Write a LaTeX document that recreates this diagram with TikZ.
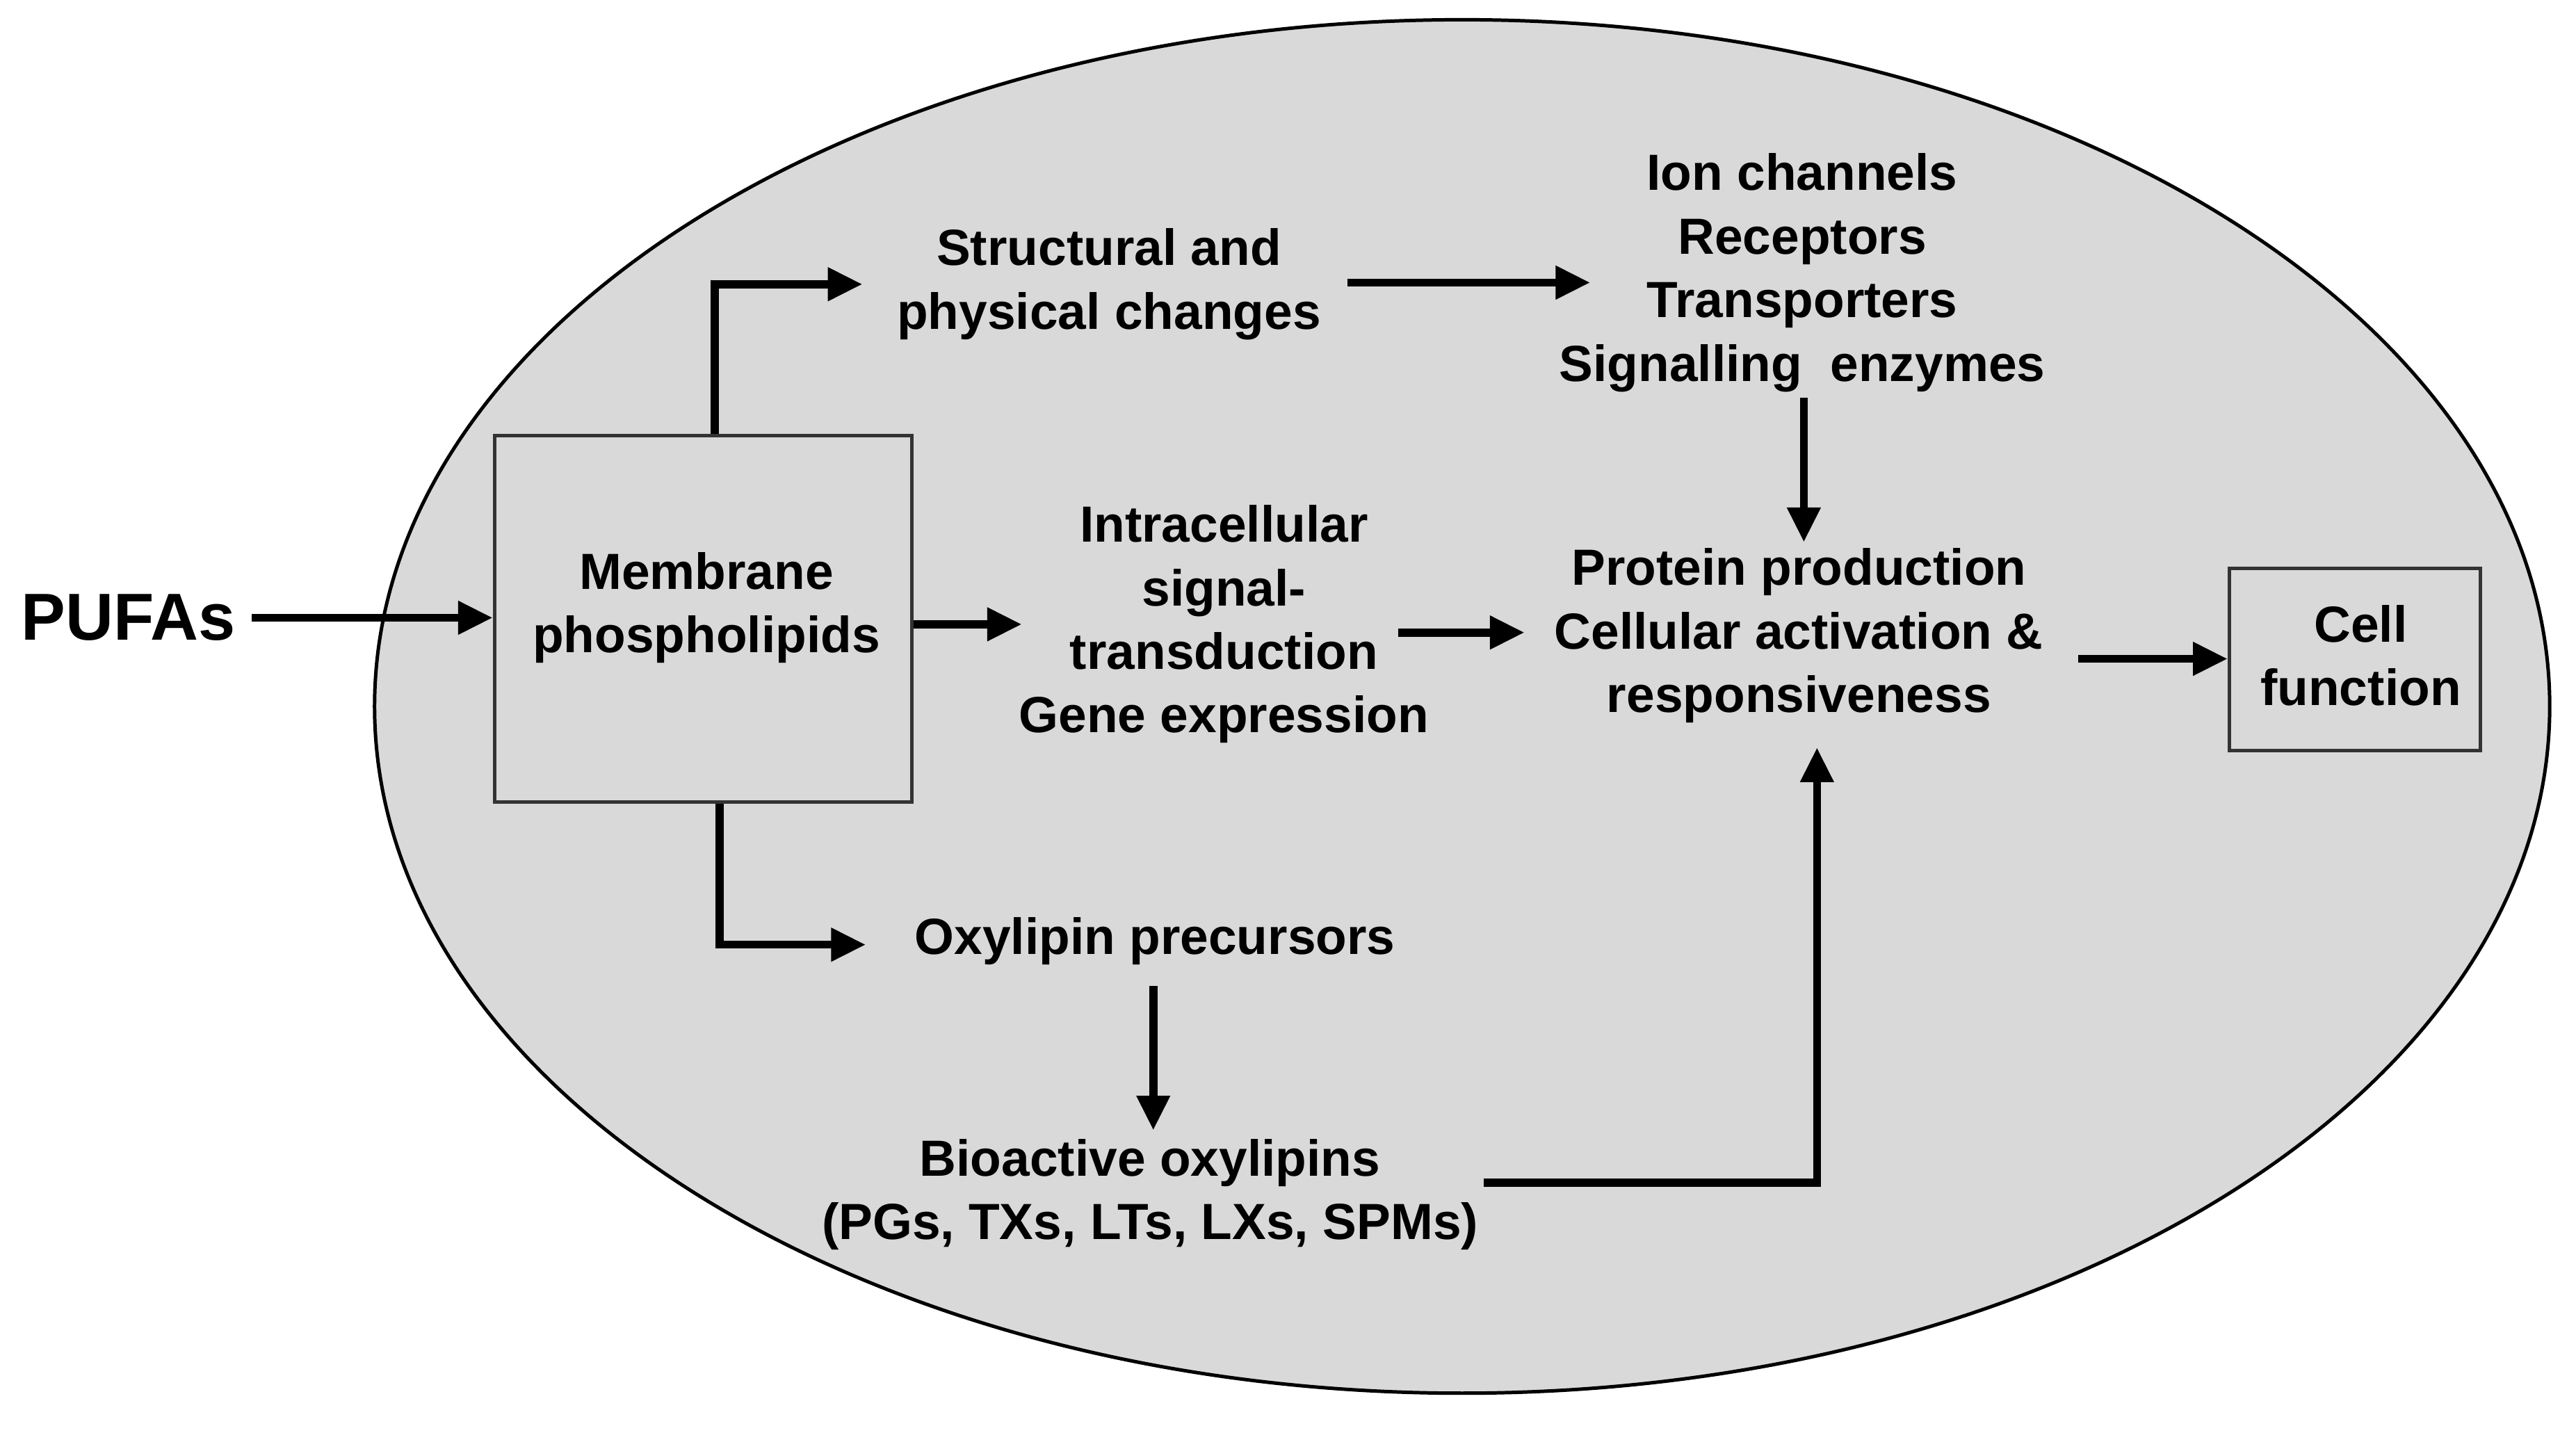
\documentclass[tikz,border=0pt]{standalone}
\usepackage{fontspec}
\setmainfont{Liberation Sans}
\usetikzlibrary{arrows.meta}
\begin{document}
\begin{tikzpicture}[x=0.01cm,y=-0.01cm,
  txt/.style={font=\bfseries\fontsize{8.8}{11}\selectfont,align=center,inner sep=0pt},
  arr/.style={line width=1.4pt,-{Triangle[length=6pt,width=5.5pt]}},
  box/.style={draw=black!80,line width=0.6pt,fill=black!15,inner sep=0pt}]
\useasboundingbox (0,0) rectangle (1568,872);
\definecolor{cellgray}{RGB}{217,217,217}
\draw[fill=cellgray,draw=black,line width=0.6pt] (890,430) ellipse [x radius=662,y radius=418];
% boxes
\node[box,minimum width=254*0.01cm,minimum height=223*0.01cm] (mem) at (428,376.5) {};
\node[txt] at (430,370) {Membrane\\phospholipids};
\node[box,minimum width=153*0.01cm,minimum height=111*0.01cm] (cellbox) at (1433.5,401.5) {};
\node[txt] (cell) at (1437,399) {Cell\\function};
% texts
\node[txt,font=\bfseries\fontsize{11.5}{13}\selectfont] (pufa) at (78,376) {PUFAs};
\node[txt] (struct) at (675,173) {Structural and\\physical changes};
\node[txt] (ion) at (1097,166) {Ion channels\\Receptors\\Transporters\\Signalling\ \ enzymes};
\node[txt] (intra) at (745,380) {Intracellular\\signal-\\transduction\\Gene expression};
\node[txt] (prot) at (1095,387) {Protein production\\Cellular activation \&\\responsiveness};
\node[txt] (oxpre) at (703,573) {Oxylipin precursors};
\node[txt] (bio) at (700,727) {Bioactive oxylipins\\(PGs, TXs, LTs, LXs, SPMs)};
% arrows
\draw[arr] (153,376) -- (mem.west |- 0,376);
\draw[arr] (mem.north -| 435,0) -- (435,173) -- (525,173);
\draw[arr] (820,172) -- (968,172);
\draw[arr] (mem.east |- 0,380) -- (622,380);
\draw[arr] (851,385) -- (928,385);
\draw[arr] (1098,242) -- (1098,330);
\draw[arr] (mem.south -| 438,0) -- (438,575) -- (527,575);
\draw[arr] (702,600) -- (702,688);
\draw[arr] (903,720) -- (1106,720) -- (1106,455);
\draw[arr] (1265,401) -- (cellbox.west |- 0,401);
\end{tikzpicture}
\end{document}
